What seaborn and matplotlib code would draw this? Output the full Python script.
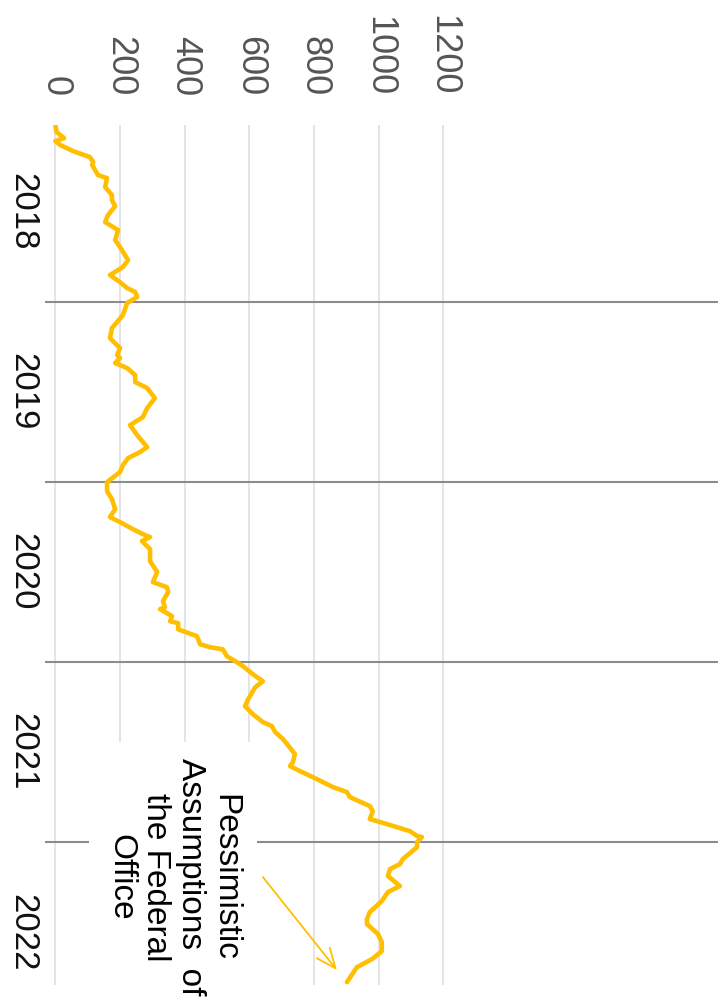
import seaborn as sns
import matplotlib.pyplot as plt

sns.set_style("white")
plt.rcParams['font.family'] = ['Liberation Sans', 'DejaVu Sans']

# time in decimal years, value of the series
years = [2018.019, 2018.058, 2018.092, 2018.108, 2018.130, 2018.164, 2018.197, 2018.225, 2018.241, 2018.297,
         2018.314, 2018.363, 2018.408, 2018.436, 2018.469, 2018.519, 2018.558, 2018.602, 2018.658, 2018.696,
         2018.769, 2018.807, 2018.852, 2018.891, 2018.924, 2018.946, 2018.974, 2019.007, 2019.074, 2019.113,
         2019.146, 2019.202, 2019.257, 2019.296, 2019.313, 2019.340, 2019.368, 2019.407, 2019.446, 2019.479,
         2019.535, 2019.590, 2019.640, 2019.685, 2019.740, 2019.807, 2019.834, 2019.868, 2019.907, 2019.945,
         2020.001, 2020.051, 2020.095, 2020.151, 2020.195, 2020.223, 2020.262, 2020.290, 2020.306, 2020.328,
         2020.373, 2020.439, 2020.500, 2020.556, 2020.584, 2020.611, 2020.661, 2020.695, 2020.706, 2020.745,
         2020.773, 2020.784, 2020.818, 2020.856, 2020.901, 2020.917, 2020.929, 2020.968, 2021.001, 2021.023,
         2021.067, 2021.106, 2021.140, 2021.217, 2021.245, 2021.289, 2021.333, 2021.355, 2021.388, 2021.427,
         2021.455, 2021.510, 2021.555, 2021.577, 2021.605, 2021.649, 2021.694, 2021.721, 2021.749, 2021.799,
         2021.827, 2021.871, 2021.899, 2021.938, 2021.965, 2021.971, 2021.999, 2022.027, 2022.093, 2022.121,
         2022.149, 2022.187, 2022.243, 2022.276, 2022.326, 2022.387, 2022.426, 2022.454, 2022.509, 2022.554,
         2022.604, 2022.648, 2022.693, 2022.776]

values = [0, 4, 27, 0, 15, 55, 107, 117, 114, 132,
          160, 154, 175, 175, 185, 163, 154, 194, 185, 200,
          225, 209, 169, 200, 222, 247, 253, 222, 209, 191,
          175, 169, 200, 191, 200, 185, 222, 247, 247, 284,
          308, 284, 271, 231, 253, 284, 262, 225, 209, 200,
          160, 160, 175, 185, 169, 200, 240, 271, 293, 268,
          293, 293, 315, 302, 345, 349, 333, 339, 324, 361,
          355, 380, 380, 438, 448, 478, 518, 531, 562, 581,
          611, 642, 618, 593, 587, 611, 642, 670, 680, 704,
          717, 741, 735, 726, 757, 809, 859, 902, 911, 973,
          982, 973, 1026, 1097, 1119, 1134, 1119, 1119, 1075, 1066,
          1035, 1029, 1066, 1029, 1010, 973, 964, 964, 998, 1010,
          1010, 980, 933, 902]

value_ticks = [0, 200, 400, 600, 800, 1000, 1200]
year_labels = ['2018', '2019', '2020', '2021', '2022']
year_starts = [2019, 2020, 2021, 2022]
note = 'Pessimistic\nAssumptions  of\nthe Federal\nOffice'

line_color = '#FFBF00'

fig = plt.figure(figsize=(7.27, 10), dpi=100)
ax = fig.add_axes([45 / 727, 0.015, 673 / 727, 0.86])

sns.lineplot(x=values, y=years, orient='y', sort=False, estimator=None,
             color=line_color, linewidth=3.3, ax=ax, zorder=5)

ax.set_xlim(-32, 2050)
ax.set_ylim(2022.792, 2018.019)

# value gridlines (vertical in this rotated view)
ax.set_xticks(value_ticks)
ax.set_xticklabels([str(v) for v in value_ticks], rotation=-90,
                   fontsize=26, color='#555555')
ax.xaxis.tick_top()
ax.tick_params(axis='x', length=0, pad=21)
ax.grid(axis='x', color='#dcdcdc', linewidth=1.1)
ax.grid(axis='y', visible=False)

# year separators
for y in year_starts:
    ax.axhline(y, color='#8c8c8c', linewidth=1.5, zorder=2)

ax.set_yticks([int(lbl) + 0.5 for lbl in year_labels])
ax.set_yticklabels(year_labels, rotation=-90, fontsize=25, color='#111111', va='center')
ax.tick_params(axis='y', length=0, pad=4)

for s in ax.spines.values():
    s.set_visible(False)

ax.text(364, 2022.193, note, rotation=-90, ha='center', va='center',
        multialignment='center', fontsize=24, color='black', linespacing=1.15,
        clip_on=False, zorder=4,
        bbox=dict(boxstyle='square,pad=0.5', fc='white', ec='none'))

ax.annotate('', xy=(871, 2022.709), xytext=(642, 2022.193),
            arrowprops=dict(arrowstyle='->,head_length=0.7,head_width=0.3',
                            color=line_color, lw=1.3, mutation_scale=20,
                            shrinkA=0, shrinkB=0),
            zorder=6, annotation_clip=False)

fig.savefig('out.png', dpi=100)
